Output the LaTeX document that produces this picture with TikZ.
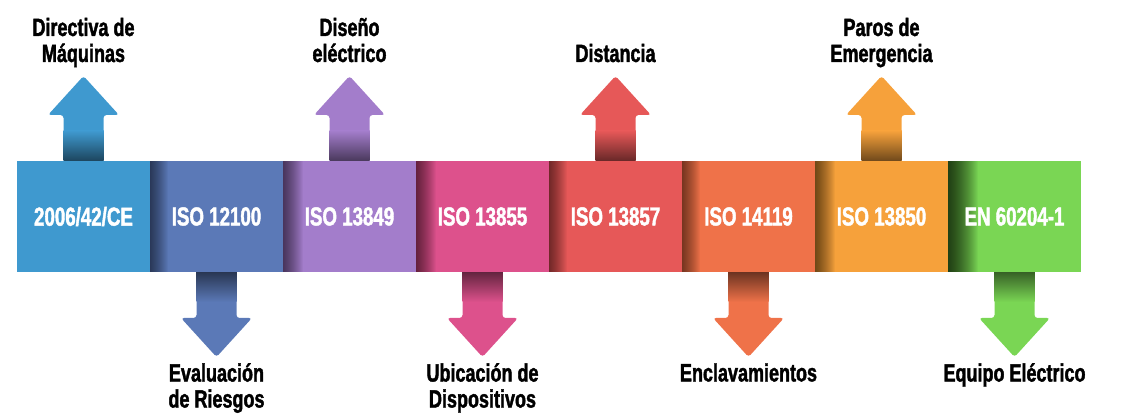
\documentclass[tikz,border=0pt]{standalone}
\usepackage{fontspec}
\usetikzlibrary{positioning,backgrounds,calc}
\newfontfamily\heavyfont{Liberation Sans}[FakeStretch=0.72, BoldFeatures={FakeBold=1.6}]

\definecolor{cblue}{HTML}{3F99CF}
\definecolor{cslate}{HTML}{5B79B7}
\definecolor{clilac}{HTML}{A37DCB}
\definecolor{cpink}{HTML}{DD518C}
\definecolor{cred}{HTML}{E65858}
\definecolor{corange}{HTML}{EF7249}
\definecolor{camber}{HTML}{F6A13B}
\definecolor{cgreen}{HTML}{7AD654}

\tikzset{
    bar/.style={minimum width=133pt, minimum height=111pt, inner sep=0pt, outer sep=0pt,
        fill=#1, text=white, font=\heavyfont\bfseries\fontsize{26}{28}\selectfont},
    shadowed/.style={path picture={
        \foreach \k in {1,...,#1}
            \fill[black, opacity=0.035] (path picture bounding box.south west) rectangle ([xshift=\k pt]path picture bounding box.north west);}},
    arrowbody/.style={fill=#1, rounded corners=3pt},
    toplabel/.style={align=center, inner sep=0pt, font=\heavyfont\bfseries\fontsize{25}{26}\selectfont},
    bottomlabel/.style={align=center, inner sep=0pt, font=\heavyfont\bfseries\fontsize{25}{26}\selectfont},
}

\begin{document}
\begin{tikzpicture}[x=1pt, y=1pt]
    \useasboundingbox (0, 0) rectangle (1123, 417);

    \node[bar=cblue] (b1) at (83.5, 200.5) {2006/42/CE};
    \node[bar=cslate, shadowed=18, right=0pt of b1] (b2) {ISO 12100};
    \node[bar=clilac, shadowed=20, right=0pt of b2] (b3) {ISO 13849};
    \node[bar=cpink, shadowed=20, right=0pt of b3] (b4) {ISO 13855};
    \node[bar=cred, shadowed=18, right=0pt of b4] (b5) {ISO 13857};
    \node[bar=corange, shadowed=18, right=0pt of b5] (b6) {ISO 14119};
    \node[bar=camber, shadowed=20, right=0pt of b6] (b7) {ISO 13850};
    \node[bar=cgreen, shadowed=30, right=0pt of b7] (b8) {EN 60204-1};

    \begin{scope}[on background layer]
        \fill[arrowbody=cblue] ($(b1.north)+(-20,-4)$) -- ++(0,50) -- ++(-15.5,0) -- ++(35.5,39) coordinate (t1) -- ++(35.5,-39) -- ++(-15.5,0) -- ++(0,-50) -- cycle;
        \fill[arrowbody=clilac] ($(b3.north)+(-20,-4)$) -- ++(0,50) -- ++(-15.5,0) -- ++(35.5,39) coordinate (t3) -- ++(35.5,-39) -- ++(-15.5,0) -- ++(0,-50) -- cycle;
        \fill[arrowbody=cred] ($(b5.north)+(-20,-4)$) -- ++(0,50) -- ++(-15.5,0) -- ++(35.5,39) coordinate (t5) -- ++(35.5,-39) -- ++(-15.5,0) -- ++(0,-50) -- cycle;
        \fill[arrowbody=camber] ($(b7.north)+(-20,-4)$) -- ++(0,50) -- ++(-15.5,0) -- ++(35.5,39) coordinate (t7) -- ++(35.5,-39) -- ++(-15.5,0) -- ++(0,-50) -- cycle;

        \fill[arrowbody=cslate] ($(b2.south)+(-20,4)$) -- ++(0,-50) -- ++(-15.5,0) -- ++(35.5,-39) coordinate (t2) -- ++(35.5,39) -- ++(-15.5,0) -- ++(0,50) -- cycle;
        \fill[arrowbody=cpink] ($(b4.south)+(-20,4)$) -- ++(0,-50) -- ++(-15.5,0) -- ++(35.5,-39) coordinate (t4) -- ++(35.5,39) -- ++(-15.5,0) -- ++(0,50) -- cycle;
        \fill[arrowbody=corange] ($(b6.south)+(-20,4)$) -- ++(0,-50) -- ++(-15.5,0) -- ++(35.5,-39) coordinate (t6) -- ++(35.5,39) -- ++(-15.5,0) -- ++(0,50) -- cycle;
        \fill[arrowbody=cgreen] ($(b8.south)+(-20,4)$) -- ++(0,-50) -- ++(-15.5,0) -- ++(35.5,-39) coordinate (t8) -- ++(35.5,39) -- ++(-15.5,0) -- ++(0,50) -- cycle;

        \shade[top color=cblue, bottom color=cblue!45!black] ($(b1.north)+(-20,0)$) rectangle ++(40,30);
        \shade[top color=clilac, bottom color=clilac!45!black] ($(b3.north)+(-20,0)$) rectangle ++(40,30);
        \shade[top color=cred, bottom color=cred!45!black] ($(b5.north)+(-20,0)$) rectangle ++(40,30);
        \shade[top color=camber, bottom color=camber!45!black] ($(b7.north)+(-20,0)$) rectangle ++(40,30);

        \shade[bottom color=cslate, top color=cslate!45!black] ($(b2.south)+(-20,0)$) rectangle ++(40,-30);
        \shade[bottom color=cpink, top color=cpink!45!black] ($(b4.south)+(-20,0)$) rectangle ++(40,-30);
        \shade[bottom color=corange, top color=corange!45!black] ($(b6.south)+(-20,0)$) rectangle ++(40,-30);
        \shade[bottom color=cgreen, top color=cgreen!45!black] ($(b8.south)+(-20,0)$) rectangle ++(40,-30);
    \end{scope}

    \node[toplabel, above=6pt of t1] (l1) {Directiva de\\Máquinas\strut};
    \node[toplabel, above=6pt of t3] (l3) {Diseño\\eléctrico\strut};
    \node[toplabel, above=6pt of t5] (l5) {Distancia\strut};
    \node[toplabel, above=6pt of t7] (l7) {Paros de\\Emergencia\strut};

    \node[bottomlabel, below=6pt of t2] (l2) {\strut Evaluación\\de Riesgos};
    \node[bottomlabel, below=6pt of t4] (l4) {\strut Ubicación de\\Dispositivos};
    \node[bottomlabel, below=6pt of t6] (l6) {\strut Enclavamientos};
    \node[bottomlabel, below=6pt of t8] (l8) {\strut Equipo Eléctrico};
\end{tikzpicture}
\end{document}
